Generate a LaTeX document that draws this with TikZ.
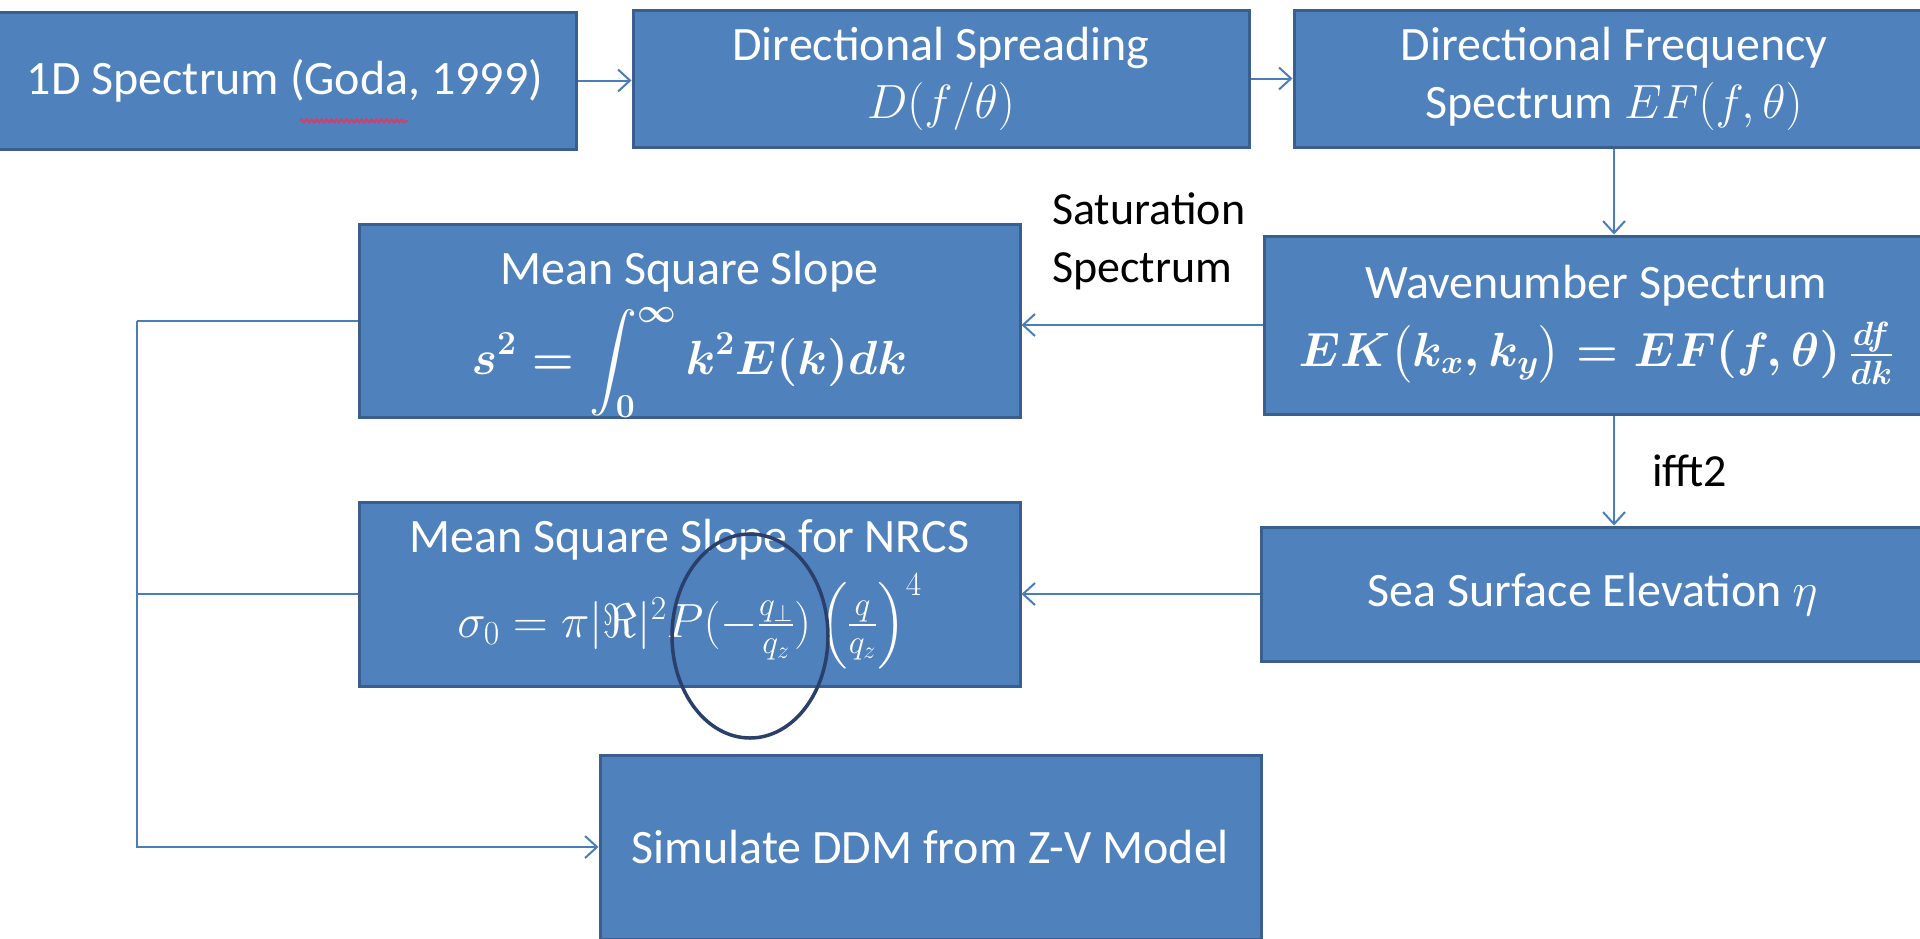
\RequirePackage{fix-cm}
\documentclass[tikz,border=0pt]{standalone}
\usepackage{amsmath}
\usepackage{fontspec}
\setmainfont{Carlito}
\DeclareFontShape{OMX}{cmex}{m}{n}{<->cmex10}{}
\usetikzlibrary{arrows.meta,shapes.geometric,decorations.pathmorphing}
\definecolor{boxfill}{HTML}{4F81BD}
\definecolor{boxline}{HTML}{3A5F8E}
\definecolor{conn}{HTML}{4A7EBB}
\definecolor{ringcol}{HTML}{2B3F6B}
\definecolor{spell}{HTML}{D0406A}
\tikzset{
 blk/.style={draw=boxline, fill=boxfill, line width=3, text=white, align=center, inner sep=0, font=\fontsize{48}{58}\selectfont},
 link/.style={draw=conn, line width=2},
 arr/.style={link, -{Straight Barb[length=12,width=22]}},
 lbl/.style={text=black, align=left, inner sep=0, font=\fontsize{46}{58}\selectfont},
 ring/.style={ellipse, draw=ringcol, line width=3.5, inner sep=0},
}
\begin{document}
\begin{tikzpicture}[x=1pt,y=-1pt]
\useasboundingbox (0,0) rectangle (1920,938);
\clip (0,0) rectangle (1920,938);
\node[blk, minimum width=582, minimum height=137] (b1) at (285,80.5) {1D Spectrum (Goda, 1999)};
\node[blk, minimum width=616, minimum height=137] (b2) at (941,78.5) {Directional Spreading\\$D(f/\theta)$};
\node[blk, minimum width=640, minimum height=137] (b3) at (1614,78.5) {Directional Frequency\\Spectrum $EF(f,\theta)$};
\node[blk, minimum width=664, minimum height=178] (b4) at (1596,325) {Wavenumber Spectrum\\[10pt]{\boldmath$EK\bigl(k_x,k_y\bigr)=EF(f,\theta)\,\frac{df}{dk}$}};
\node[blk, minimum width=661, minimum height=186] (mss) at (689.5,321) {\rule{0pt}{60pt}Mean Square Slope\\[14pt]{\boldmath$\displaystyle s^2=\int_0^\infty \boldsymbol{k}^2E(\boldsymbol{k})d\boldsymbol{k}$}};
\node[blk, minimum width=661, minimum height=184] (nrcs) at (689.5,594) {Mean Square Slope for NRCS\\[12pt]$\sigma_0=\pi|\Re|^2P(-\frac{q_\perp}{q_z})\left(\frac{q}{q_z}\right)^4$};
\node[blk, minimum width=663, minimum height=134] (sea) at (1592.5,594) {Sea Surface Elevation $\eta$};
\node[blk, minimum width=661, minimum height=184] (ddm) at (930.5,847) {Simulate DDM from Z-V Model};
\node[lbl, anchor=west] (sat) at (1052,241) {Saturation\\Spectrum};
\node[lbl, anchor=west] (ifft) at (1652,471) {ifft2};
\coordinate (vx) at (1614,0);
\coordinate (bx) at (137,0);
\draw[arr] (b1.east) -- (b1.east -| b2.west);
\draw[arr] (b2.east) -- (b2.east -| b3.west);
\draw[arr] (b3.south -| vx) -- (b4.north -| vx);
\draw[arr] (b4.south -| vx) -- (sea.north -| vx);
\draw[arr] (b4.west) -- (b4.west -| mss.east);
\draw[arr] (sea.west) -- (sea.west -| nrcs.east);
\draw[link] (mss.west) -- (mss.west -| bx);
\draw[arr] (mss.west -| bx) |- (ddm.west);
\draw[link] (nrcs.west) -- (nrcs.west -| bx);
\node[ring, minimum width=156, minimum height=204] (circ) at (750,636) {};
\draw[spell, line width=2, decorate, decoration={snake, amplitude=1.5, segment length=5}] (300,121) -- (408,121);
\end{tikzpicture}
\end{document}
